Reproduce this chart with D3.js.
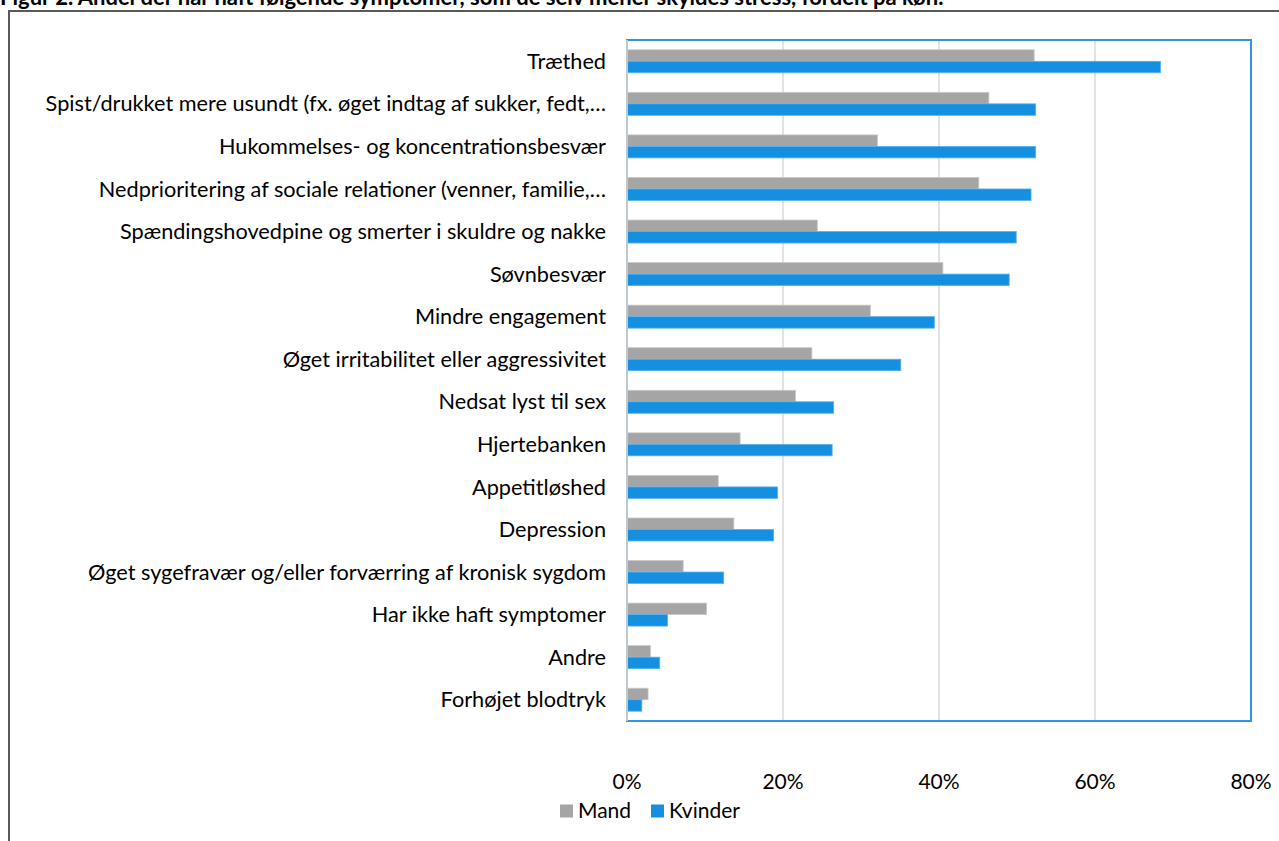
<!DOCTYPE html>
<html>
<head>
<meta charset="utf-8">
<script src="https://cdn.jsdelivr.net/npm/d3@7"></script>
<style>
    body { margin: 0; background: #fff; }
    svg { display: block; font-family: Lato, "Open Sans", sans-serif; }
</style>
</head>
<body>
<div id="graphContainer"></div>
<script>
const titleText = "Figur 2. Andel der har haft følgende symptomer, som de selv mener skyldes stress, fordelt på køn.";

const categories = [
    "Træthed",
    "Spist/drukket mere usundt (fx. øget indtag af sukker, fedt,…",
    "Hukommelses- og koncentrationsbesvær",
    "Nedprioritering af sociale relationer (venner, familie,…",
    "Spændingshovedpine og smerter i skuldre og nakke",
    "Søvnbesvær",
    "Mindre engagement",
    "Øget irritabilitet eller aggressivitet",
    "Nedsat lyst til sex",
    "Hjertebanken",
    "Appetitløshed",
    "Depression",
    "Øget sygefravær og/eller forværring af kronisk sygdom",
    "Har ikke haft symptomer",
    "Andre",
    "Forhøjet blodtryk"
];

const mand    = [52.2, 46.4, 32.1, 45.1, 24.4, 40.5, 31.2, 23.7, 21.6, 14.5, 11.7, 13.7, 7.2, 10.2, 3.0, 2.7];
const kvinder = [68.4, 52.4, 52.4, 51.8, 49.9, 49.0, 39.4, 35.1, 26.5, 26.3, 19.3, 18.8, 12.4, 5.2, 4.2, 1.9];

const seriesNames = ["Mand", "Kvinder"];
const xTicks = [0, 20, 40, 60, 80];

const colors = { Mand: "#A5A5A5", Kvinder: "#1590E0" };

function buildBarGraph(svg) {
    var width = 1279, height = 841;
    var left = 627, right = 1251, top = 40, bottom = 721;

    svg.attr("width", width).attr("height", height);

    // outer frame (only top + left visible in the crop)
    svg.append("path")
        .attr("d", `M8,11 H${width} M9,11 V${height}`)
        .attr("fill", "none")
        .attr("stroke", "#595959")
        .attr("stroke-width", 2);

    svg.append("text")
        .attr("x", 0)
        .attr("y", 5)
        .attr("font-size", 22)
        .attr("font-weight", "bold")
        .attr("fill", "#000")
        .text(titleText);

    var x = d3.scaleLinear()
        .domain([0, 80])
        .range([left, right]);

    var y = d3.scaleBand()
        .domain(categories)
        .range([top, bottom])
        .paddingInner(0.46)
        .paddingOuter(0.23);

    var ySub = d3.scaleBand()
        .domain(seriesNames)
        .range([0, y.bandwidth()]);

    // gridlines
    svg.append("g")
        .selectAll("line")
        .data(xTicks.slice(1, -1))
        .enter()
        .append("line")
        .attr("x1", d => x(d)).attr("x2", d => x(d))
        .attr("y1", top).attr("y2", bottom)
        .attr("stroke", "#D9D9D9")
        .attr("stroke-width", 1.5);

    var rows = categories.map((c, i) => ({ cat: c, Mand: mand[i], Kvinder: kvinder[i] }));

    svg.append("g")
        .selectAll("g")
        .data(rows)
        .enter()
        .append("g")
        .attr("transform", d => `translate(0,${y(d.cat)})`)
        .selectAll("rect")
        .data(d => seriesNames.map(s => ({ s, v: d[s] })))
        .enter()
        .append("rect")
        .attr("x", x(0))
        .attr("y", d => ySub(d.s))
        .attr("width", d => x(d.v) - x(0))
        .attr("height", ySub.bandwidth())
        .attr("fill", d => colors[d.s])
        .attr("stroke", d => d.s === "Mand" ? "#C8C8C8" : "#5BB0EC")
        .attr("stroke-width", 0.8);

    // plot area border
    svg.append("rect")
        .attr("x", left).attr("y", top)
        .attr("width", right - left).attr("height", bottom - top)
        .attr("fill", "none")
        .attr("stroke", "#2E96E2")
        .attr("stroke-width", 2);

    svg.append("line")
        .attr("x1", left).attr("x2", left)
        .attr("y1", top).attr("y2", bottom)
        .attr("stroke", "#BFC7CF")
        .attr("stroke-width", 2);

    // category labels
    svg.append("g")
        .selectAll("text")
        .data(categories)
        .enter()
        .append("text")
        .attr("x", left - 21)
        .attr("y", d => y(d) + y.bandwidth() / 2)
        .attr("dy", "0.35em")
        .attr("text-anchor", "end")
        .attr("font-size", 21.7)
        .attr("fill", "#000")
        .text(d => d);

    // x tick labels
    svg.append("g")
        .selectAll("text")
        .data(xTicks)
        .enter()
        .append("text")
        .attr("x", d => x(d))
        .attr("y", 789)
        .attr("text-anchor", "middle")
        .attr("font-size", 21)
        .attr("fill", "#000")
        .text(d => d + "%");

    // legend
    var legendX = [560, 651];
    var legend = svg.append("g")
        .selectAll("g")
        .data(seriesNames)
        .enter()
        .append("g")
        .attr("transform", (d, i) => `translate(${legendX[i]},811)`);

    legend.append("rect")
        .attr("x", 0).attr("y", -6.5)
        .attr("width", 13).attr("height", 13)
        .attr("fill", d => colors[d]);

    legend.append("text")
        .attr("x", 18)
        .attr("y", 0)
        .attr("dy", "0.35em")
        .attr("font-size", 21)
        .attr("fill", "#000")
        .text(d => d);
}

window.onload = function() {
    const svg = d3.select("#graphContainer").append("svg");
    buildBarGraph(svg);
}
</script>
</body>
</html>
